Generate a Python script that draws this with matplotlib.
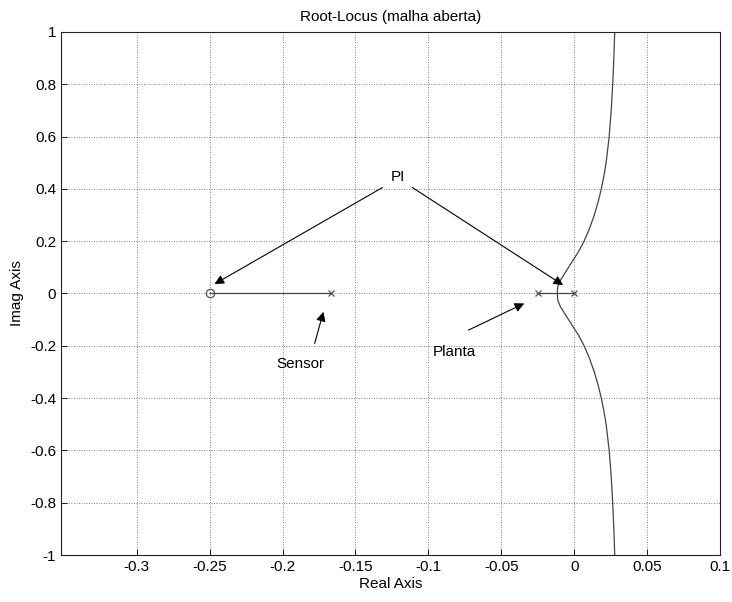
import matplotlib
matplotlib.use('Agg')
import matplotlib.pyplot as plt

# Polos e zero (malha aberta)
polos = [0.0, -0.025, -0.1667]
zeros = [-0.25]

# Ramos sobre o eixo real
seg_sensor_re = [-0.25, -0.1667]
seg_planta_re = [-0.025, 0.0]

# Ramo complexo (parte superior); a inferior e o espelho
ramo_im = [0.0, 0.025, 0.05, 0.09, 0.127, 0.16, 0.2, 0.25, 0.3, 0.35, 0.4,
           0.45, 0.5, 0.6, 0.7, 0.8, 0.9, 1.0]
ramo_re = [-0.0116, -0.0113, -0.0095, -0.0050, -0.0008, 0.0030, 0.0068, 0.0106,
           0.0138, 0.0164, 0.0186, 0.0204, 0.0219, 0.0240, 0.0254, 0.0264, 0.0272, 0.0278]

xticks = [-0.3, -0.25, -0.2, -0.15, -0.1, -0.05, 0, 0.05, 0.1]
yticks = [-1, -0.8, -0.6, -0.4, -0.2, 0, 0.2, 0.4, 0.6, 0.8, 1]

plt.rcParams['font.family'] = ['Liberation Sans', 'DejaVu Sans']

fig = plt.figure(figsize=(7.32, 6.02), dpi=100)
ax = fig.add_axes([0.0833, 0.078, 0.9003, 0.869])

cor = '#444444'
ax.plot(seg_sensor_re, [0, 0], color=cor, lw=0.9)
ax.plot(seg_planta_re, [0, 0], color=cor, lw=0.9)
ax.plot(ramo_re, ramo_im, color=cor, lw=0.9)
ax.plot(ramo_re, [-v for v in ramo_im], color=cor, lw=0.9)

ax.plot(polos, [0] * len(polos), 'x', color='#555555', ms=5, mew=0.9)
ax.plot(zeros, [0] * len(zeros), 'o', mfc='none', mec='#555555', ms=6, mew=0.9)

seta = dict(arrowstyle='-|>', color='k', lw=0.8, mutation_scale=14, shrinkA=0, shrinkB=0)
ax.text(-0.121, 0.447, 'PI', ha='center', va='center', fontsize=11)
ax.annotate('', xy=(-0.2467, 0.036), xytext=(-0.1315, 0.405), arrowprops=seta)
ax.annotate('', xy=(-0.0076, 0.032), xytext=(-0.111, 0.405), arrowprops=seta)

ax.text(-0.188, -0.268, 'Sensor', ha='center', va='center', fontsize=11)
ax.annotate('', xy=(-0.172, -0.07), xytext=(-0.178, -0.191), arrowprops=seta)

ax.text(-0.082, -0.222, 'Planta', ha='center', va='center', fontsize=11)
ax.annotate('', xy=(-0.0343, -0.038), xytext=(-0.0725, -0.14), arrowprops=seta)

ax.set_xlim(-0.352, 0.1)
ax.set_ylim(-1, 1)
ax.set_xticks(xticks)
ax.set_xticklabels(['-0.3', '-0.25', '-0.2', '-0.15', '-0.1', '-0.05', '0', '0.05', '0.1'])
ax.set_yticks(yticks)
ax.set_yticklabels(['-1', '-0.8', '-0.6', '-0.4', '-0.2', '0', '0.2', '0.4', '0.6', '0.8', '1'])
ax.tick_params(direction='in', labelsize=11, length=4, width=0.6, top=False, right=False)
ax.grid(True, linestyle=(0, (1, 2)), color='#555555', lw=0.6)
for s in ax.spines.values():
    s.set_linewidth(0.8)
    s.set_color('#222222')

ax.set_title('Root-Locus (malha aberta)', fontsize=11, pad=8)
ax.set_xlabel('Real Axis', fontsize=11, labelpad=2)
ax.set_ylabel('Imag Axis', fontsize=11, labelpad=4)

plt.savefig('out.png', dpi=100)
plt.close()
